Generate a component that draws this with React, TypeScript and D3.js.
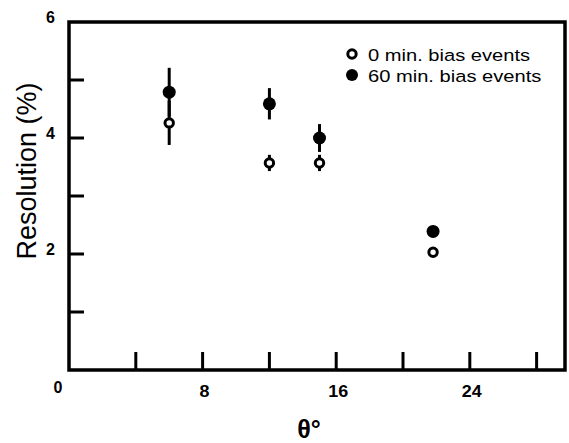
import React from "react";
import * as d3 from "d3";

const theta = [6, 12, 15, 21.8];
const res0 = [4.26, 3.57, 3.57, 2.03];
const err0 = [0.38, 0.14, 0.14, 0.04];
const res60 = [4.79, 4.59, 4.0, 2.39];
const err60 = [0.42, 0.27, 0.24, 0.04];
const xTicks = [4, 8, 12, 16, 20, 24, 28];
const xTickLabels = [8, 16, 24];
const yTicks = [1, 2, 3, 4, 5];
const yTickLabels = [2, 4, 6];
const legendLabels = ["0 min. bias events", "60 min. bias events"];

export default function App() {
  const W = 569, H = 443;
  const x = d3.scaleLinear().domain([0, 29.7]).range([69, 565]);
  const y = d3.scaleLinear().domain([0, 6]).range([370, 22]);
  const font = "Liberation Sans, Arial, Helvetica, sans-serif";
  const x0 = x(0), x1 = x(29.7), y0 = y(0), y1 = y(6);
  return (
    <svg width={W} height={H} style={{ position: "absolute", left: 0, top: 0 }} fontFamily={font}>
      <rect width={W} height={H} fill="#fff" />
      {/* frame */}
      <path d={`M${x0},${y0} L${x0},${y1} L${x1},${y1} L${x1},${y0} Z`} fill="none" stroke="#000" strokeWidth={3.5} />
      {/* y ticks */}
      {yTicks.map((t) => (
        <line key={"yt" + t} x1={x0} x2={x0 + 15} y1={y(t)} y2={y(t)} stroke="#000" strokeWidth={3} />
      ))}
      {/* x ticks */}
      {xTicks.map((t) => (
        <line key={"xt" + t} x1={x(t)} x2={x(t)} y1={y0} y2={y0 - 18} stroke="#000" strokeWidth={3} />
      ))}
      {/* y tick labels */}
      {yTickLabels.map((t) => (
        <text key={"yl" + t} x={55} y={y(t) + 1} textAnchor="end" fontSize={16} fontWeight="bold">{t}</text>
      ))}
      <text x={58} y={393} textAnchor="middle" fontSize={16} fontWeight="bold">0</text>
      {xTickLabels.map((t) => (
        <text key={"xl" + t} transform={`translate(${x(t) + 2},397) scale(1.12,1)`} textAnchor="middle" fontSize={16} fontWeight="bold">{t}</text>
      ))}
      {/* axis titles */}
      <text transform={`translate(36,${171}) rotate(-90)`} textAnchor="middle" fontSize={27}>Resolution (%)</text>
      <text x={309} y={438} textAnchor="middle" fontSize={25} fontWeight="bold">θ°</text>
      {/* error bars */}
      {theta.map((t, i) => (
        <g key={"e" + i}>
          <line x1={x(t)} x2={x(t)} y1={y(res60[i] + err60[i])} y2={y(res60[i] - err60[i])} stroke="#000" strokeWidth={3} />
          <line x1={x(t)} x2={x(t)} y1={y(res0[i] + err0[i])} y2={y(res0[i] - err0[i])} stroke="#000" strokeWidth={3} />
        </g>
      ))}
      {/* points */}
      {theta.map((t, i) => (
        <circle key={"f" + i} cx={x(t)} cy={y(res60[i])} r={6.5} fill="#000" />
      ))}
      {theta.map((t, i) => (
        <circle key={"o" + i} cx={x(t)} cy={y(res0[i])} r={4.2} fill="#fff" stroke="#000" strokeWidth={3} />
      ))}
      {/* legend */}
      <circle cx={352} cy={54} r={4.2} fill="#fff" stroke="#000" strokeWidth={3} />
      <circle cx={352} cy={75} r={6} fill="#000" />
      {legendLabels.map((l, i) => (
        <text key={"lg" + i} transform={`translate(368,${61 + i * 21}) scale(1.22,1)`} fontSize={16.5}>{l}</text>
      ))}
    </svg>
  );
}
